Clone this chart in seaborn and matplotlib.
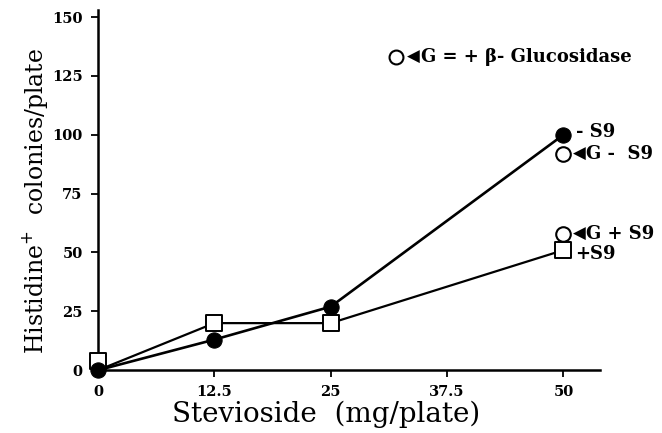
import numpy as np
import pandas as pd
import matplotlib
matplotlib.use('Agg')
import matplotlib.pyplot as plt
import seaborn as sns

# Data
dose = [0, 12.5, 25, 50]
minus_s9 = [0, 13, 27, 100]
plus_s9 = [4, 20, 20, 51]
g_dose = [50, 50]
g_values = [92, 58]          # G - S9, G + S9
key_x, key_y = [32], [133]   # open-circle key symbol

x_ticks = [0, 12.5, 25, 37.5, 50]
x_tick_labels = ['0', '12.5', '25', '37.5', '50']
y_ticks = [0, 25, 50, 75, 100, 125, 150]

sns.set_style('ticks')
plt.rcParams['font.family'] = ['DejaVu Serif', 'DejaVu Sans']
for key in ['text.color', 'axes.labelcolor', 'xtick.color', 'ytick.color', 'axes.edgecolor']:
    plt.rcParams[key] = 'black'

fig = plt.figure(figsize=(6.62, 4.33), dpi=100)
ax = fig.add_axes([0.148, 0.145, 0.758, 0.832])

df_minus = pd.DataFrame({'dose': dose, 'count': minus_s9})
# the +S9 line is drawn from the origin in the original, the square sits above it
df_plus_line = pd.DataFrame({'dose': dose, 'count': [0] + plus_s9[1:]})
df_plus = pd.DataFrame({'dose': dose, 'count': plus_s9})

sns.lineplot(data=df_plus_line, x='dose', y='count', ax=ax, color='black', lw=1.6,
             clip_on=False, zorder=3)
sns.scatterplot(data=df_plus, x='dose', y='count', ax=ax, marker='s', s=120,
                facecolor='white', edgecolor='black', linewidth=1.4,
                clip_on=False, zorder=4)
sns.lineplot(data=df_minus, x='dose', y='count', ax=ax, color='black', lw=1.9,
             marker='o', markersize=11, markerfacecolor='black',
             markeredgecolor='black', clip_on=False, zorder=5)
sns.scatterplot(x=g_dose, y=g_values, ax=ax, marker='o', s=110, facecolor='white',
                edgecolor='black', linewidth=1.5, clip_on=False, zorder=4)
sns.scatterplot(x=key_x, y=key_y, ax=ax, marker='o', s=100, facecolor='white',
                edgecolor='black', linewidth=1.5, clip_on=False, zorder=4)

# annotations
bold = dict(fontsize=13, fontweight='bold', va='center')
tri = dict(fontsize=12, va='center', family='DejaVu Sans')
ax.text(33.2, key_y[0], '◀', **tri)
ax.text(34.7, key_y[0], 'G = + β- Glucosidase', **bold)
ax.text(51.4, minus_s9[3] + 1, '- S9', **bold)
ax.text(51.0, g_values[0], '◀', **tri)
ax.text(52.4, g_values[0], 'G -  S9', **bold)
ax.text(51.0, g_values[1], '◀', **tri)
ax.text(52.4, g_values[1], 'G + S9', **bold)
ax.text(51.2, plus_s9[3] - 1.5, '+S9', **bold)

ax.set_xlim(0, 53.9)
ax.set_ylim(0, 153)
ax.set_xticks(x_ticks)
ax.set_xticklabels(x_tick_labels)
ax.set_yticks(y_ticks)
for lab in ax.get_xticklabels() + ax.get_yticklabels():
    lab.set_fontweight('bold')
    lab.set_fontsize(10.5)
ax.tick_params(axis='both', direction='out', length=5, width=1.3, pad=6)
for side in ['left', 'bottom']:
    ax.spines[side].set_linewidth(1.8)
sns.despine(ax=ax)

ax.set_xlabel('Stevioside  (mg/plate)', fontsize=20)
ax.xaxis.set_label_coords(0.455, -0.085)
ax.set_ylabel('Histidine$^{+}$  colonies/plate', fontsize=17)
ax.yaxis.set_label_coords(-0.095, 0.47)

fig.savefig('out.png', dpi=100)
